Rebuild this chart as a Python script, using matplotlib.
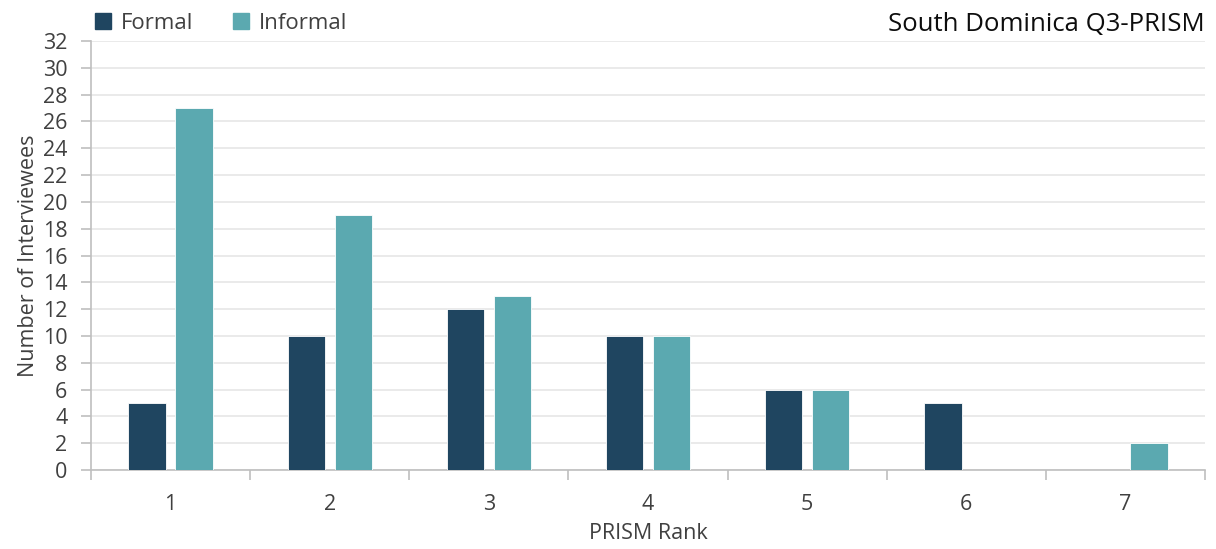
import numpy as np
import matplotlib
matplotlib.use("Agg")
import matplotlib.pyplot as plt
from matplotlib.patches import Patch

# datos
rangos = ['1', '2', '3', '4', '5', '6', '7']
formal = [5, 10, 12, 10, 6, 5, 0]
informal = [27, 19, 13, 10, 6, 0, 2]

plt.rcParams['font.family'] = ['Open Sans', 'DejaVu Sans']

fig = plt.figure(figsize=(12.16, 5.49), dpi=100)
ax = fig.add_axes([0.0748, 0.1439, 0.9162, 0.7814])

x = np.arange(len(rangos))
w = 0.235
c_formal = '#1F4560'
c_informal = '#5BA9B0'
ax.bar(x - 0.147, formal, w, color=c_formal, edgecolor='white', linewidth=0.6, zorder=3)
ax.bar(x + 0.148, informal, w, color=c_informal, edgecolor='white', linewidth=0.6, zorder=3)

ax.set_xlim(-0.5, len(rangos) - 0.5)
ax.set_ylim(0, 32)
ax.set_yticks(range(0, 33, 2))
ax.yaxis.grid(True, color='#E6E6E6', linewidth=1.2, zorder=0)

# ticks del eje x en los limites de categoria
ax.set_xticks(x)
ax.set_xticklabels(rangos)
ax.set_xticks(np.arange(-0.5, len(rangos), 1), minor=True)
ax.tick_params(axis='x', which='major', length=0, pad=17, labelsize=15.5, colors='#404040')
ax.tick_params(axis='x', which='minor', length=7, color='#BFBFBF', width=1.2)
ax.tick_params(axis='y', length=7, width=1.2, labelsize=15.5, pad=10)
ax.tick_params(axis='y', colors='#BFBFBF', labelcolor='#404040')

for s in ['top', 'right']:
    ax.spines[s].set_visible(False)
for s in ['left', 'bottom']:
    ax.spines[s].set_color('#BFBFBF')
    ax.spines[s].set_linewidth(1.2)

ax.set_xlabel('PRISM Rank', fontsize=15.5, color='#404040', labelpad=6)
ax.set_ylabel('Number of Interviewees', fontsize=15.5, color='#404040', labelpad=3)

handles = [Patch(color=c_formal, label='Formal'), Patch(color=c_informal, label='Informal')]
leg = fig.legend(handles=handles, loc='center left', bbox_to_anchor=(0.062, 0.958), ncol=2,
                 frameon=False, fontsize=16, handlelength=0.7, handleheight=0.7,
                 handletextpad=0.45, columnspacing=1.8, labelcolor='#404040')

fig.text(0.991, 0.955, 'South Dominica Q3-PRISM', ha='right', va='center', fontsize=18.5, color='#0D0D0D')

fig.savefig('out.png', dpi=100)
